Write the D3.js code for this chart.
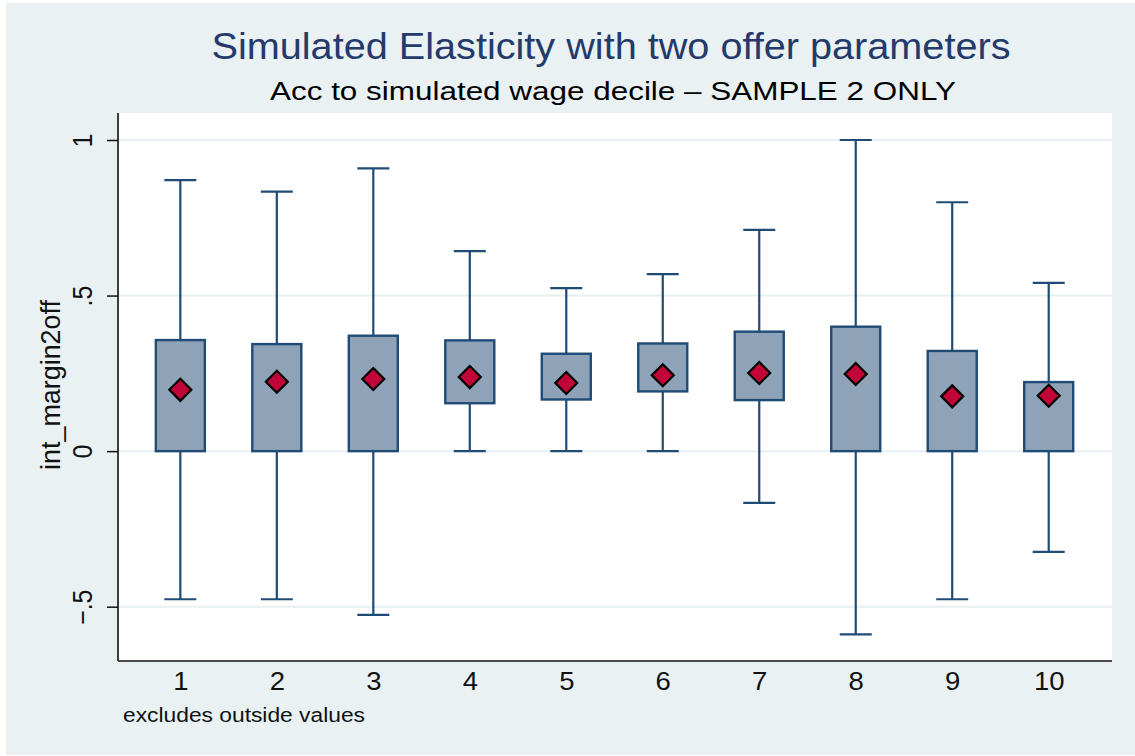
<!DOCTYPE html>
<html>
<head>
<meta charset="utf-8">
<script src="https://cdn.jsdelivr.net/npm/d3@7"></script>
<style>
  html, body { margin: 0; padding: 0; background: #ffffff; }
  svg { display: block; }
  text { font-family: "Liberation Sans", Arial, Helvetica, sans-serif; }
</style>
</head>
<body>
<svg id="chart" width="1135" height="756"></svg>
<script>
// ---- data ----
const deciles      = [1, 2, 3, 4, 5, 6, 7, 8, 9, 10];
const upperWhisker = [0.871, 0.834, 0.909, 0.643, 0.524, 0.569, 0.711, 1.000, 0.800, 0.541];
const upperQuart   = [0.357, 0.344, 0.371, 0.356, 0.313, 0.346, 0.384, 0.400, 0.322, 0.222];
const lowerQuart   = [0.000, 0.000, 0.000, 0.154, 0.166, 0.192, 0.164, 0.000, 0.000, 0.000];
const lowerWhisker = [-0.476, -0.476, -0.526, 0.000, 0.000, 0.000, -0.166, -0.589, -0.476, -0.324];
const medians      = [0.197, 0.223, 0.232, 0.238, 0.219, 0.244, 0.251, 0.248, 0.176, 0.178];
const yTicks       = [-0.5, 0, 0.5, 1];
const yTickLabels  = ["\u2212.5", "0", ".5", "1"];

const titleText    = "Simulated Elasticity with two offer parameters";
const subtitleText = "Acc to simulated wage decile \u2013 SAMPLE 2 ONLY";
const yTitleText   = "int_margin2off";
const noteText     = "excludes outside values";

// ---- layout ----
const svg = d3.select("#chart");
const W = 1135, H = 756;
const plot = { left: 118, right: 1112, top: 113, bottom: 661 };

const x = d3.scaleLinear().domain([0.354, 10.656]).range([plot.left, plot.right]);
const y = d3.scaleLinear().domain([-0.5, 1]).range([606.7, 140]);

const boxW = 49, capW = 32;
const navy = "#1f4b76";
const boxFill = "#8ea3b7";

// outer background
svg.append("rect").attr("x", 6).attr("y", 3).attr("width", W - 6).attr("height", 752)
   .attr("fill", "#e9f1f3");

// plot region
svg.append("rect").attr("x", plot.left).attr("y", plot.top)
   .attr("width", plot.right - plot.left).attr("height", plot.bottom - plot.top)
   .attr("fill", "#ffffff");

// gridlines
svg.append("g").selectAll("line").data(yTicks).join("line")
   .attr("x1", plot.left).attr("x2", plot.right)
   .attr("y1", d => y(d)).attr("y2", d => y(d))
   .attr("stroke", "#e6eff2").attr("stroke-width", 2);

// y axis
const yAxis = d3.axisLeft(y).tickValues(yTicks).tickSize(11).tickSizeOuter(0)
   .tickFormat((d, i) => yTickLabels[i]);
const gy = svg.append("g").attr("transform", `translate(${plot.left},0)`).call(yAxis);
gy.select(".domain").remove();
gy.selectAll(".tick line").attr("stroke", "#111").attr("stroke-width", 1.5);
gy.selectAll(".tick text")
   .attr("x", null).attr("dy", null)
   .attr("text-anchor", "middle")
   .attr("font-size", 25).attr("fill", "#111")
   .attr("transform", "translate(-26,0) scale(1.1,1) rotate(-90)")
   .attr("y", 0);
svg.append("line").attr("x1", plot.left).attr("x2", plot.left)
   .attr("y1", plot.top).attr("y2", plot.bottom)
   .attr("stroke", "#111").attr("stroke-width", 1.6);

// x axis
const xAxis = d3.axisBottom(x).tickValues(deciles).tickSize(0).tickSizeOuter(0)
   .tickFormat(d3.format("d"));
const gx = svg.append("g").attr("transform", `translate(0,${plot.bottom})`).call(xAxis);
gx.select(".domain").remove();
gx.selectAll(".tick text").attr("font-size", 25).attr("fill", "#111")
   .attr("dy", null).attr("y", 29).attr("transform", "scale(1.1,1)");
svg.append("line").attr("x1", plot.left).attr("x2", plot.right)
   .attr("y1", plot.bottom).attr("y2", plot.bottom)
   .attr("stroke", "#111").attr("stroke-width", 1.6);

// boxes
const data = deciles.map((d, i) => ({
  d, uw: upperWhisker[i], q3: upperQuart[i], q1: lowerQuart[i], lw: lowerWhisker[i], med: medians[i]
}));

const g = svg.append("g");
const bx = g.selectAll("g.box").data(data).join("g").attr("class", "box");

// whiskers
bx.append("line").attr("x1", d => x(d.d)).attr("x2", d => x(d.d))
  .attr("y1", d => y(d.uw)).attr("y2", d => y(d.q3))
  .attr("stroke", navy).attr("stroke-width", 2.2);
bx.append("line").attr("x1", d => x(d.d)).attr("x2", d => x(d.d))
  .attr("y1", d => y(d.q1)).attr("y2", d => y(d.lw))
  .attr("stroke", navy).attr("stroke-width", 2.2);
// caps
bx.append("line").attr("x1", d => x(d.d) - capW / 2).attr("x2", d => x(d.d) + capW / 2)
  .attr("y1", d => y(d.uw)).attr("y2", d => y(d.uw))
  .attr("stroke", navy).attr("stroke-width", 2.2);
bx.append("line").attr("x1", d => x(d.d) - capW / 2).attr("x2", d => x(d.d) + capW / 2)
  .attr("y1", d => y(d.lw)).attr("y2", d => y(d.lw))
  .attr("stroke", navy).attr("stroke-width", 2.2);
// box
bx.append("rect").attr("x", d => x(d.d) - boxW / 2).attr("width", boxW)
  .attr("y", d => y(d.q3)).attr("height", d => y(d.q1) - y(d.q3))
  .attr("fill", boxFill).attr("stroke", navy).attr("stroke-width", 2.4);
// median diamond
const r = 11;
bx.append("path")
  .attr("d", d => {
    const cx = x(d.d), cy = y(d.med);
    return `M${cx},${cy - r}L${cx + r},${cy}L${cx},${cy + r}L${cx - r},${cy}Z`;
  })
  .attr("fill", "#c10538").attr("stroke", "#000").attr("stroke-width", 2.2)
  .attr("stroke-linejoin", "miter");

// titles
svg.append("text").attr("x", 611).attr("y", 59).attr("text-anchor", "middle")
   .attr("font-size", 36).attr("fill", "#233a6b")
   .attr("textLength", 799).attr("lengthAdjust", "spacingAndGlyphs")
   .text(titleText);
svg.append("text").attr("x", 613).attr("y", 100).attr("text-anchor", "middle")
   .attr("font-size", 25.5).attr("fill", "#000")
   .attr("textLength", 686).attr("lengthAdjust", "spacingAndGlyphs")
   .text(subtitleText);

// y axis title
svg.append("text")
   .attr("transform", `translate(60,${(470 + 300) / 2}) scale(1.1,1) rotate(-90)`)
   .attr("text-anchor", "middle").attr("font-size", 25).attr("fill", "#111")
   .attr("textLength", 170).attr("lengthAdjust", "spacingAndGlyphs")
   .text(yTitleText);

// note
svg.append("text").attr("x", 123).attr("y", 722)
   .attr("font-size", 20).attr("fill", "#111")
   .attr("textLength", 242).attr("lengthAdjust", "spacingAndGlyphs")
   .text(noteText);
</script>
</body>
</html>
